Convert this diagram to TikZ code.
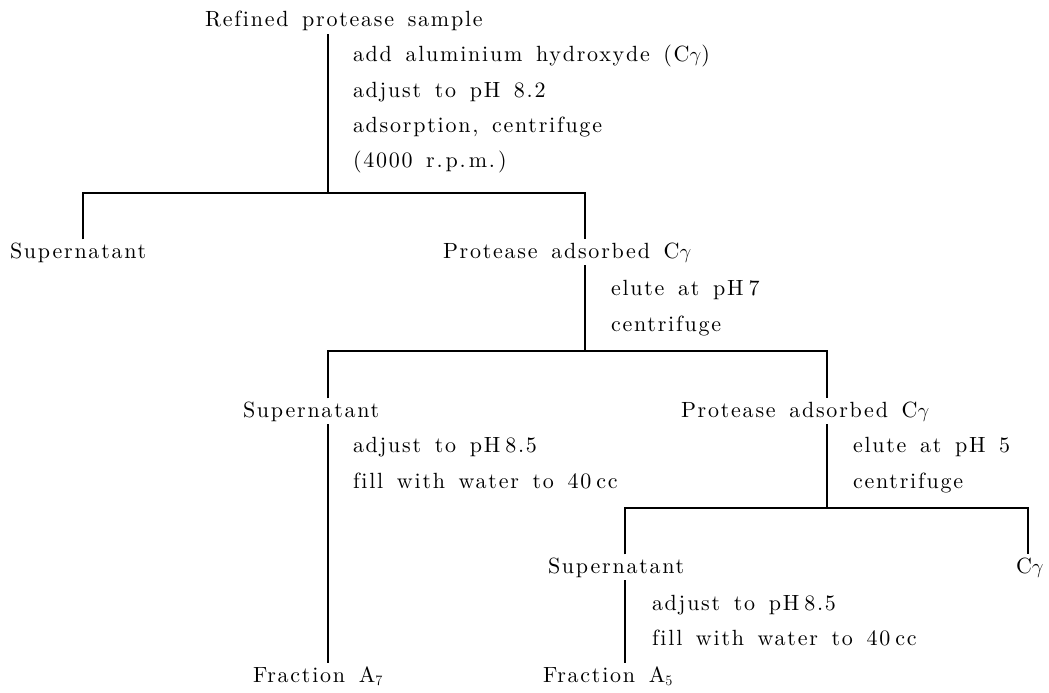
\documentclass[tikz,border=0pt]{standalone}
\usepackage{fontspec}
\newfontfamily\spacedrm{lmroman10-regular.otf}[LetterSpace=8, WordSpace=1.5, Ligatures=CommonOff]
\newcommand\nsp{\hspace{5pt}}
\newcommand\tsp{\hspace{3pt}}
\begin{document}
\begin{tikzpicture}[x=1pt,y=-1pt,
  txt/.style={anchor=base west, inner sep=3pt, outer sep=0pt,
    font=\spacedrm\fontsize{22}{26}\selectfont},
  link/.style={line width=1.4pt, line join=miter}]
\useasboundingbox (0,0) rectangle (1049,693);

% --- texts ---
\node[txt] (root) at (202,27) {Refined protease sample};
\node[txt] (s1a) at (350,62) {add aluminium hydroxyde (C$\gamma$)};
\node[txt] (s1b) at (350,97) {adjust to pH 8.2};
\node[txt] (s1c) at (350,132) {adsorption, centrifuge};
\node[txt] (s1d) at (350,167) {(4000 r.\tsp{}p.\tsp{}m.\tsp{})};

\node[txt] (sup1) at (7,258) {Supernatant};
\node[txt] (pa1) at (440,258) {Protease adsorbed C$\gamma$};
\node[txt] (s2a) at (608,295) {elute at pH\nsp{}7};
\node[txt] (s2b) at (608,331) {centrifuge};

\node[txt] (sup2) at (240,417) {Supernatant};
\node[txt] (pa2) at (678,417) {Protease adsorbed C$\gamma$};
\node[txt] (s3a) at (350,452) {adjust to pH\nsp{}8.5};
\node[txt] (s3b) at (350,488) {fill with water to 40\nsp{}cc};
\node[txt] (s4a) at (850,452) {elute at pH 5};
\node[txt] (s4b) at (850,488) {centrifuge};

\node[txt] (sup3) at (545,573) {Supernatant};
\node[txt] (cg) at (1013,573) {C$\gamma$};
\node[txt] (s5a) at (649,610) {adjust to pH\nsp{}8.5};
\node[txt] (s5b) at (649,645) {fill with water to 40\nsp{}cc};

\node[txt] (fa7) at (250,682) {Fraction A$_7$};
\node[txt] (fa5) at (540,682) {Fraction A$_5$};

% --- branch points ---
\coordinate (j1) at (328,193);
\coordinate (b1l) at (83,193);
\coordinate (b1r) at (585,193);
\coordinate (j2) at (585,351);
\coordinate (b2l) at (328,351);
\coordinate (b2r) at (827,351);
\coordinate (j3) at (827,508);
\coordinate (b3l) at (625,508);
\coordinate (b3r) at (1028,508);

% --- connectors ---
\draw[link] (root.south -| j1) -- (j1);
\draw[link] (sup1.north -| b1l) -- (b1l) -- (b1r) -- (pa1.north -| b1r);

\draw[link] (pa1.south -| j2) -- (j2);
\draw[link] (sup2.north -| b2l) -- (b2l) -- (b2r) -- (pa2.north -| b2r);

\draw[link] (sup2.south -| b2l) -- (fa7.north -| b2l);
\draw[link] (pa2.south -| j3) -- (j3);
\draw[link] (sup3.north -| b3l) -- (b3l) -- (b3r) -- (cg.north -| b3r);

\draw[link] (sup3.south -| b3l) -- (fa5.north -| b3l);
\end{tikzpicture}
\end{document}
